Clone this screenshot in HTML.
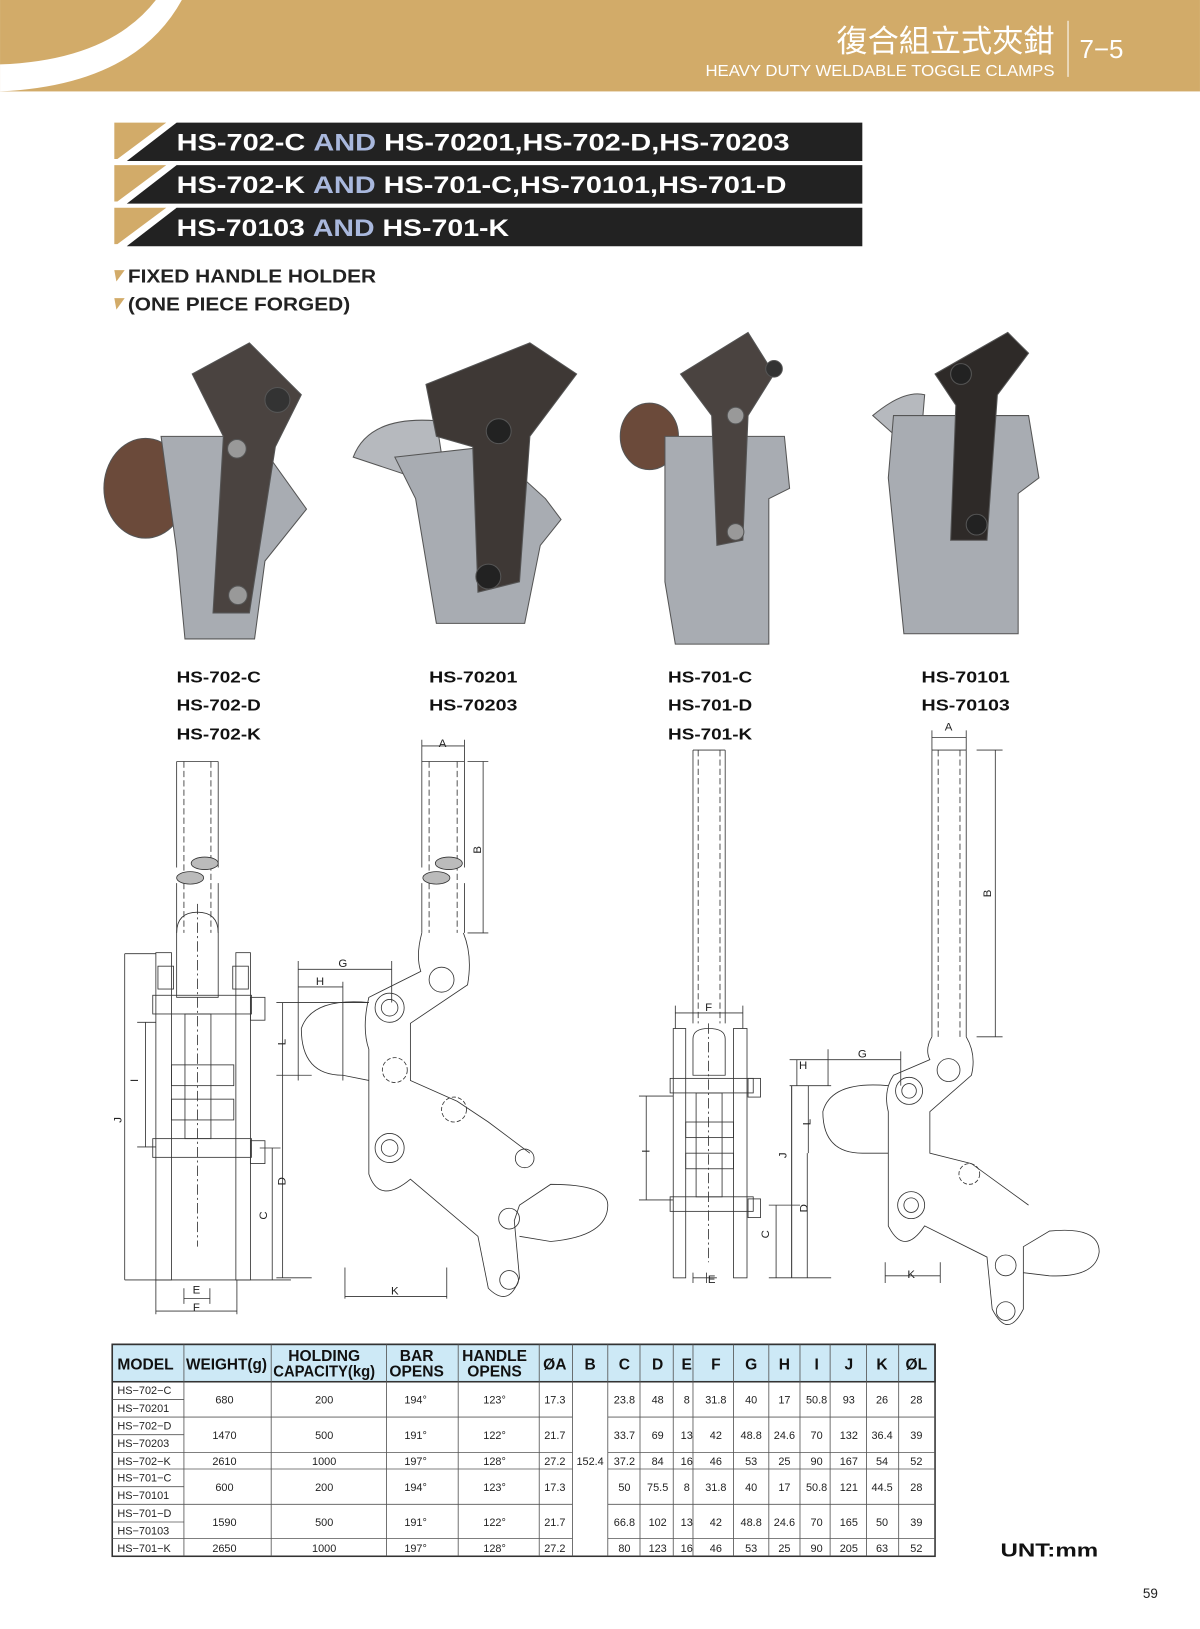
<!DOCTYPE html>
<html><head><meta charset="utf-8"><style>
html,body{margin:0;padding:0;background:#fff}
svg{display:block}
text{font-family:"Liberation Sans","Noto Sans CJK TC",sans-serif}
</style></head><body>
<svg width="1200" height="1629" viewBox="0 0 1155 1568" xmlns="http://www.w3.org/2000/svg">
<!-- header -->
<rect x="0" y="0" width="1155" height="88" fill="#d2ab69"/>
<path d="M0,88 Q130,82 175,0 L150,0 Q105,58 0,62 Z" fill="#fff"/>
<text x="1015" y="50" font-size="30" fill="#fff" text-anchor="end" font-family="Noto Sans CJK TC,sans-serif">復合組立式夾鉗</text>
<text x="679" y="73" font-size="15" fill="#fff" textLength="336" lengthAdjust="spacingAndGlyphs">HEAVY DUTY WELDABLE TOGGLE CLAMPS</text>
<line x1="1028" y1="20" x2="1028" y2="74" stroke="#fff" stroke-width="1"/>
<text x="1039" y="56" font-size="25" fill="#fff">7−5</text>
<!-- banners -->
<g>
<polygon points="110,118 160,118 113,153 110,153" fill="#d2ab69"/>
<polygon points="170,118 830,118 830,155 122,155" fill="#222"/>
<text x="170" y="145" font-size="23" font-weight="bold" fill="#fff" textLength="590" lengthAdjust="spacingAndGlyphs">HS-702-C <tspan fill="#a9b8dd">AND</tspan> HS-70201,HS-702-D,HS-70203</text>
<polygon points="110,159 160,159 113,194 110,194" fill="#d2ab69"/>
<polygon points="170,159 830,159 830,196 122,196" fill="#222"/>
<text x="170" y="186" font-size="23" font-weight="bold" fill="#fff" textLength="587" lengthAdjust="spacingAndGlyphs">HS-702-K <tspan fill="#a9b8dd">AND</tspan> HS-701-C,HS-70101,HS-701-D</text>
<polygon points="110,200 160,200 113,235 110,235" fill="#d2ab69"/>
<polygon points="170,200 830,200 830,237 122,237" fill="#222"/>
<text x="170" y="227" font-size="23" font-weight="bold" fill="#fff" textLength="320" lengthAdjust="spacingAndGlyphs">HS-70103 <tspan fill="#a9b8dd">AND</tspan> HS-701-K</text>
</g>
<polygon points="110,260 120,260 112,271" fill="#d2ab69"/>
<text x="123" y="272" font-size="18" font-weight="bold" fill="#222" textLength="239" lengthAdjust="spacingAndGlyphs">FIXED HANDLE HOLDER</text>
<polygon points="110,287 120,287 112,298" fill="#d2ab69"/>
<text x="123" y="299" font-size="18" font-weight="bold" fill="#222" textLength="214" lengthAdjust="spacingAndGlyphs">(ONE PIECE FORGED)</text>

<!-- photos -->
<g stroke="#555" stroke-width="1">
 <ellipse cx="140" cy="470" rx="40" ry="48" fill="#6b4a3a"/>
 <polygon points="155,420 245,420 295,490 255,540 245,615 178,615 170,530" fill="#a8acb2"/>
 <polygon points="185,360 240,330 290,380 265,430 240,590 205,590 215,420" fill="#4a4340"/>
 <circle cx="267" cy="385" r="12" fill="#333"/><circle cx="228" cy="432" r="9" fill="#999"/><circle cx="229" cy="573" r="9" fill="#999"/>
 <path d="M340,440 Q355,400 420,405 L430,470 Z" fill="#b6b9be"/>
 <polygon points="380,440 470,430 525,480 540,500 520,525 505,600 420,600 400,480" fill="#a8acb2"/>
 <polygon points="410,370 510,330 555,360 510,420 500,560 460,570 455,430 420,420" fill="#3e3835"/>
 <circle cx="480" cy="415" r="12" fill="#222"/><circle cx="470" cy="555" r="12" fill="#222"/>
 <ellipse cx="625" cy="420" rx="28" ry="32" fill="#6b4a3a"/>
 <polygon points="640,420 755,420 760,470 740,480 740,620 650,620 640,560" fill="#a8acb2"/>
 <polygon points="655,360 720,320 745,360 720,400 715,520 690,525 685,400" fill="#4a4340"/>
 <circle cx="745" cy="355" r="8" fill="#333"/><circle cx="708" cy="400" r="8" fill="#999"/><circle cx="708" cy="512" r="8" fill="#999"/>
 <path d="M840,400 Q870,375 890,380 L885,440 Z" fill="#b6b9be"/>
 <polygon points="860,400 990,400 1000,460 980,475 980,610 870,610 855,460" fill="#a8acb2"/>
 <polygon points="900,360 970,320 990,340 960,380 950,520 915,520 920,390" fill="#2e2a28"/>
 <circle cx="925" cy="360" r="10" fill="#222"/><circle cx="940" cy="505" r="10" fill="#222"/>
</g>
<g font-size="15" font-weight="bold" fill="#111">
<text x="170" y="657" textLength="81" lengthAdjust="spacingAndGlyphs">HS-702-C</text><text x="170" y="684" textLength="81" lengthAdjust="spacingAndGlyphs">HS-702-D</text><text x="170" y="712" textLength="81" lengthAdjust="spacingAndGlyphs">HS-702-K</text>
<text x="413" y="657" textLength="85" lengthAdjust="spacingAndGlyphs">HS-70201</text><text x="413" y="684" textLength="85" lengthAdjust="spacingAndGlyphs">HS-70203</text>
<text x="643" y="657" textLength="81" lengthAdjust="spacingAndGlyphs">HS-701-C</text><text x="643" y="684" textLength="81" lengthAdjust="spacingAndGlyphs">HS-701-D</text><text x="643" y="712" textLength="81" lengthAdjust="spacingAndGlyphs">HS-701-K</text>
<text x="887" y="657" textLength="85" lengthAdjust="spacingAndGlyphs">HS-70101</text><text x="887" y="684" textLength="85" lengthAdjust="spacingAndGlyphs">HS-70103</text>
</g>

<!-- drawings -->
<g fill="none" stroke="#333" stroke-width="0.8">
 <path d="M170,733 V835 M210,733 V835 M170,733 H210 M170,850 V898 M210,850 V898"/>
 <path d="M177,733V898 M203,733V898" stroke-dasharray="6,3"/>
 <ellipse cx="197" cy="831" rx="13" ry="6" fill="#bbb"/><ellipse cx="183" cy="845" rx="13" ry="6" fill="#bbb"/>
 <path d="M170,898 Q170,878 190,878 Q210,878 210,898 L210,960 L170,960 Z"/>
 <rect x="150" y="917" width="15" height="315"/><rect x="227" y="917" width="14" height="315"/>
 <rect x="152" y="930" width="15" height="22"/><rect x="224" y="930" width="15" height="22"/>
 <rect x="147" y="958" width="95" height="18"/><rect x="241" y="960" width="14" height="22"/>
 <rect x="147" y="1096" width="95" height="18"/><rect x="241" y="1098" width="14" height="22"/>
 <rect x="178" y="976" width="25" height="120"/>
 <rect x="165" y="1025" width="60" height="20"/><rect x="165" y="1058" width="60" height="20"/>
 <path d="M190,870V1200" stroke-dasharray="10,3,2,3"/>
 <path d="M120,918H150 M120,1232H280 M120,918V1232 M140,984V1104 M132,984H150 M132,1104H150 M262,1105V1232 M250,1105H270 M177,1240V1255 M202,1240V1255 M177,1250H202 M150,1232V1265 M228,1232V1265 M150,1262H228"/>
 <path d="M406,733V835 M447,733V835 M406,733H447 M406,850V898 M447,850V898"/>
 <path d="M413,733V898 M440,733V898" stroke-dasharray="6,3"/>
 <ellipse cx="432" cy="831" rx="13" ry="6" fill="#bbb"/><ellipse cx="420" cy="845" rx="13" ry="6" fill="#bbb"/>
 <path d="M406,718H447 M406,712V733 M447,712V733 M465,733V898 M450,733H470 M450,898H470"/>
 <path d="M406,898 Q400,920 405,935 L355,960 Q348,990 355,1010 L355,1130 Q365,1160 395,1135 L460,1190 L470,1240 Q490,1260 500,1230 L495,1175 L500,1160 L530,1140 Q585,1140 585,1160 Q585,1190 530,1195 L500,1190 M446,898 Q455,920 450,948 L395,985 L395,1040 L440,1060 L470,1080 L510,1110"/>
 <path d="M355,965 Q300,960 290,990 Q290,1035 330,1035 L355,1040"/>
 <circle cx="375" cy="970" r="14"/><circle cx="375" cy="970" r="8"/>
 <circle cx="375" cy="1105" r="14"/><circle cx="375" cy="1105" r="8"/>
 <circle cx="425" cy="943" r="12"/><circle cx="437" cy="1068" r="12" stroke-dasharray="4,2"/>
 <circle cx="380" cy="1030" r="12" stroke-dasharray="4,2"/>
 <circle cx="490" cy="1173" r="10"/><circle cx="490" cy="1232" r="9"/><circle cx="505" cy="1115" r="9"/>
 <path d="M287,925V1040 M287,933H377 M377,925V965 M287,950H330 M330,945V1040 M272,965V1230 M266,965H355 M266,1035H300 M266,1230H300 M332,1220V1250 M430,1220V1250 M332,1248H430"/>
 <path d="M667,722V985 M698,722V985 M667,722H698"/>
 <path d="M672,722V985 M693,722V985" stroke-dasharray="6,3"/>
 <path d="M667,1000 Q667,990 682,990 Q698,990 698,1000 L698,1035 L667,1035 Z"/>
 <rect x="648" y="990" width="12" height="240"/><rect x="706" y="990" width="13" height="240"/>
 <rect x="645" y="1038" width="80" height="14"/><rect x="720" y="1038" width="12" height="18"/>
 <rect x="645" y="1152" width="80" height="14"/><rect x="720" y="1154" width="12" height="18"/>
 <rect x="670" y="1052" width="25" height="100"/>
 <rect x="660" y="1080" width="46" height="15"/><rect x="660" y="1110" width="46" height="15"/>
 <path d="M682,985V1215" stroke-dasharray="10,3,2,3"/>
 <path d="M650,975H715 M650,968V990 M715,968V990 M622,1055V1155 M615,1055H648 M615,1155H648 M762,1045V1230 M747,1160V1230 M740,1160H770 M740,1230H770 M667,1225V1235 M680,1225V1235 M667,1230H690"/>
 <path d="M897,722V998 M930,722V998 M897,722H930"/>
 <path d="M903,722V998 M924,722V998" stroke-dasharray="6,3"/>
 <path d="M897,710H930 M897,703V722 M930,703V722 M958,722V998 M940,722H965 M940,998H965"/>
 <path d="M897,998 Q890,1010 895,1020 L860,1035 Q850,1050 855,1070 L855,1180 Q870,1210 890,1180 L950,1210 L955,1260 Q970,1290 985,1260 L985,1200 L1010,1185 Q1058,1180 1058,1205 Q1055,1230 1010,1228 L985,1225 M930,998 Q940,1015 935,1035 L895,1070 L895,1110 L935,1120 L990,1160"/>
 <path d="M855,1045 Q800,1040 792,1070 Q792,1110 830,1110 L855,1110"/>
 <circle cx="875" cy="1050" r="13"/><circle cx="875" cy="1050" r="7"/>
 <circle cx="877" cy="1160" r="13"/><circle cx="877" cy="1160" r="7"/>
 <circle cx="913" cy="1030" r="11"/><circle cx="933" cy="1130" r="10" stroke-dasharray="4,2"/>
 <circle cx="968" cy="1218" r="10"/><circle cx="968" cy="1262" r="9"/>
 <path d="M797,1010V1045 M797,1020H867 M867,1012V1045 M767,1020V1045 M760,1020H800 M760,1045H800 M778,1045V1110 M762,1045V1230 M777,1110V1230 M770,1230H800 M852,1215V1235 M905,1215V1235 M852,1228H905"/>
</g>
<g font-size="11" fill="#222" text-anchor="middle">
 <text x="189" y="1245">E</text><text x="189" y="1262">F</text>
 <text x="117" y="1078" transform="rotate(-90 117 1078)">J</text>
 <text x="133" y="1040" transform="rotate(-90 133 1040)">I</text>
 <text x="257" y="1170" transform="rotate(-90 257 1170)">C</text>
 <text x="426" y="719">A</text><text x="463" y="818" transform="rotate(-90 463 818)">B</text>
 <text x="330" y="931">G</text><text x="308" y="948">H</text>
 <text x="275" y="1003" transform="rotate(-90 275 1003)">L</text>
 <text x="275" y="1137" transform="rotate(-90 275 1137)">D</text>
 <text x="380" y="1246">K</text>
 <text x="682" y="973">F</text><text x="625" y="1108" transform="rotate(-90 625 1108)">I</text>
 <text x="757" y="1112" transform="rotate(-90 757 1112)">J</text>
 <text x="777" y="1163" transform="rotate(-90 777 1163)">D</text>
 <text x="740" y="1188" transform="rotate(-90 740 1188)">C</text>
 <text x="685" y="1235">E</text>
 <text x="913" y="703">A</text><text x="954" y="860" transform="rotate(-90 954 860)">B</text>
 <text x="830" y="1018">G</text><text x="773" y="1029">H</text>
 <text x="780" y="1080" transform="rotate(-90 780 1080)">L</text>
 <text x="877" y="1230">K</text>
</g>

<!-- table -->
<rect x="108" y="1294" width="792" height="36" fill="#cde9f6" stroke="#333" stroke-width="1.5"/>
<rect x="108" y="1294" width="792" height="204" fill="none" stroke="#333" stroke-width="1.5"/>
<g stroke="#555" stroke-width="0.8">
 <path d="M177,1294V1498 M261,1294V1498 M372,1294V1498 M441,1294V1498 M519,1294V1498 M551,1294V1498 M585,1294V1498 M616,1294V1498 M648,1294V1498 M667,1294V1498 M706,1294V1498 M740,1294V1498 M770,1294V1498 M799,1294V1498 M834,1294V1498 M865,1294V1498"/>
 <path d="M108,1347H177 M108,1364H551 M585,1364H900 M108,1381H177 M108,1398H551 M585,1398H900 M108,1414H551 M585,1414H900 M108,1431H177 M108,1448H551 M585,1448H900 M108,1465H177 M108,1481H551 M585,1481H900"/>
</g>
<g font-size="15" font-weight="bold" fill="#111" text-anchor="middle">
 <text x="140" y="1318">MODEL</text><text x="218" y="1318" textLength="78" lengthAdjust="spacingAndGlyphs">WEIGHT(g)</text>
 <text x="312" y="1310">HOLDING</text><text x="312" y="1325" textLength="98" lengthAdjust="spacingAndGlyphs">CAPACITY(kg)</text>
 <text x="401" y="1310">BAR</text><text x="401" y="1325">OPENS</text>
 <text x="476" y="1310">HANDLE</text><text x="476" y="1325">OPENS</text>
 <text x="534" y="1318">ØA</text><text x="568" y="1318">B</text><text x="601" y="1318">C</text><text x="633" y="1318">D</text><text x="661" y="1318">E</text><text x="689" y="1318">F</text><text x="723" y="1318">G</text><text x="755" y="1318">H</text><text x="786" y="1318">I</text><text x="817" y="1318">J</text><text x="849" y="1318">K</text><text x="882" y="1318">ØL</text>
</g>
<g font-size="10.5" fill="#222">
 <text x="113" y="1342">HS−702−C</text><text x="113" y="1359">HS−70201</text>
 <text x="113" y="1376">HS−702−D</text><text x="113" y="1393">HS−70203</text>
 <text x="113" y="1410">HS−702−K</text>
 <text x="113" y="1426">HS−701−C</text><text x="113" y="1443">HS−70101</text>
 <text x="113" y="1460">HS−701−D</text><text x="113" y="1477">HS−70103</text>
 <text x="113" y="1494">HS−701−K</text>
</g>
<g font-size="10.5" fill="#222" text-anchor="middle">
 <g transform="translate(0,1351)"><text x="216">680</text><text x="312">200</text><text x="400">194°</text><text x="476">123°</text><text x="534">17.3</text><text x="601">23.8</text><text x="633">48</text><text x="661">8</text><text x="689">31.8</text><text x="723">40</text><text x="755">17</text><text x="786">50.8</text><text x="817">93</text><text x="849">26</text><text x="882">28</text></g>
 <g transform="translate(0,1385)"><text x="216">1470</text><text x="312">500</text><text x="400">191°</text><text x="476">122°</text><text x="534">21.7</text><text x="601">33.7</text><text x="633">69</text><text x="661">13</text><text x="689">42</text><text x="723">48.8</text><text x="755">24.6</text><text x="786">70</text><text x="817">132</text><text x="849">36.4</text><text x="882">39</text></g>
 <g transform="translate(0,1410)"><text x="216">2610</text><text x="312">1000</text><text x="400">197°</text><text x="476">128°</text><text x="534">27.2</text><text x="568">152.4</text><text x="601">37.2</text><text x="633">84</text><text x="661">16</text><text x="689">46</text><text x="723">53</text><text x="755">25</text><text x="786">90</text><text x="817">167</text><text x="849">54</text><text x="882">52</text></g>
 <g transform="translate(0,1435)"><text x="216">600</text><text x="312">200</text><text x="400">194°</text><text x="476">123°</text><text x="534">17.3</text><text x="601">50</text><text x="633">75.5</text><text x="661">8</text><text x="689">31.8</text><text x="723">40</text><text x="755">17</text><text x="786">50.8</text><text x="817">121</text><text x="849">44.5</text><text x="882">28</text></g>
 <g transform="translate(0,1469)"><text x="216">1590</text><text x="312">500</text><text x="400">191°</text><text x="476">122°</text><text x="534">21.7</text><text x="601">66.8</text><text x="633">102</text><text x="661">13</text><text x="689">42</text><text x="723">48.8</text><text x="755">24.6</text><text x="786">70</text><text x="817">165</text><text x="849">50</text><text x="882">39</text></g>
 <g transform="translate(0,1494)"><text x="216">2650</text><text x="312">1000</text><text x="400">197°</text><text x="476">128°</text><text x="534">27.2</text><text x="601">80</text><text x="633">123</text><text x="661">16</text><text x="689">46</text><text x="723">53</text><text x="755">25</text><text x="786">90</text><text x="817">205</text><text x="849">63</text><text x="882">52</text></g>
</g>
<text x="963" y="1498" font-size="18" font-weight="bold" fill="#111" textLength="94" lengthAdjust="spacingAndGlyphs">UNT:mm</text>
<text x="1100" y="1538" font-size="13" fill="#222">59</text>
</svg>
</body></html>
